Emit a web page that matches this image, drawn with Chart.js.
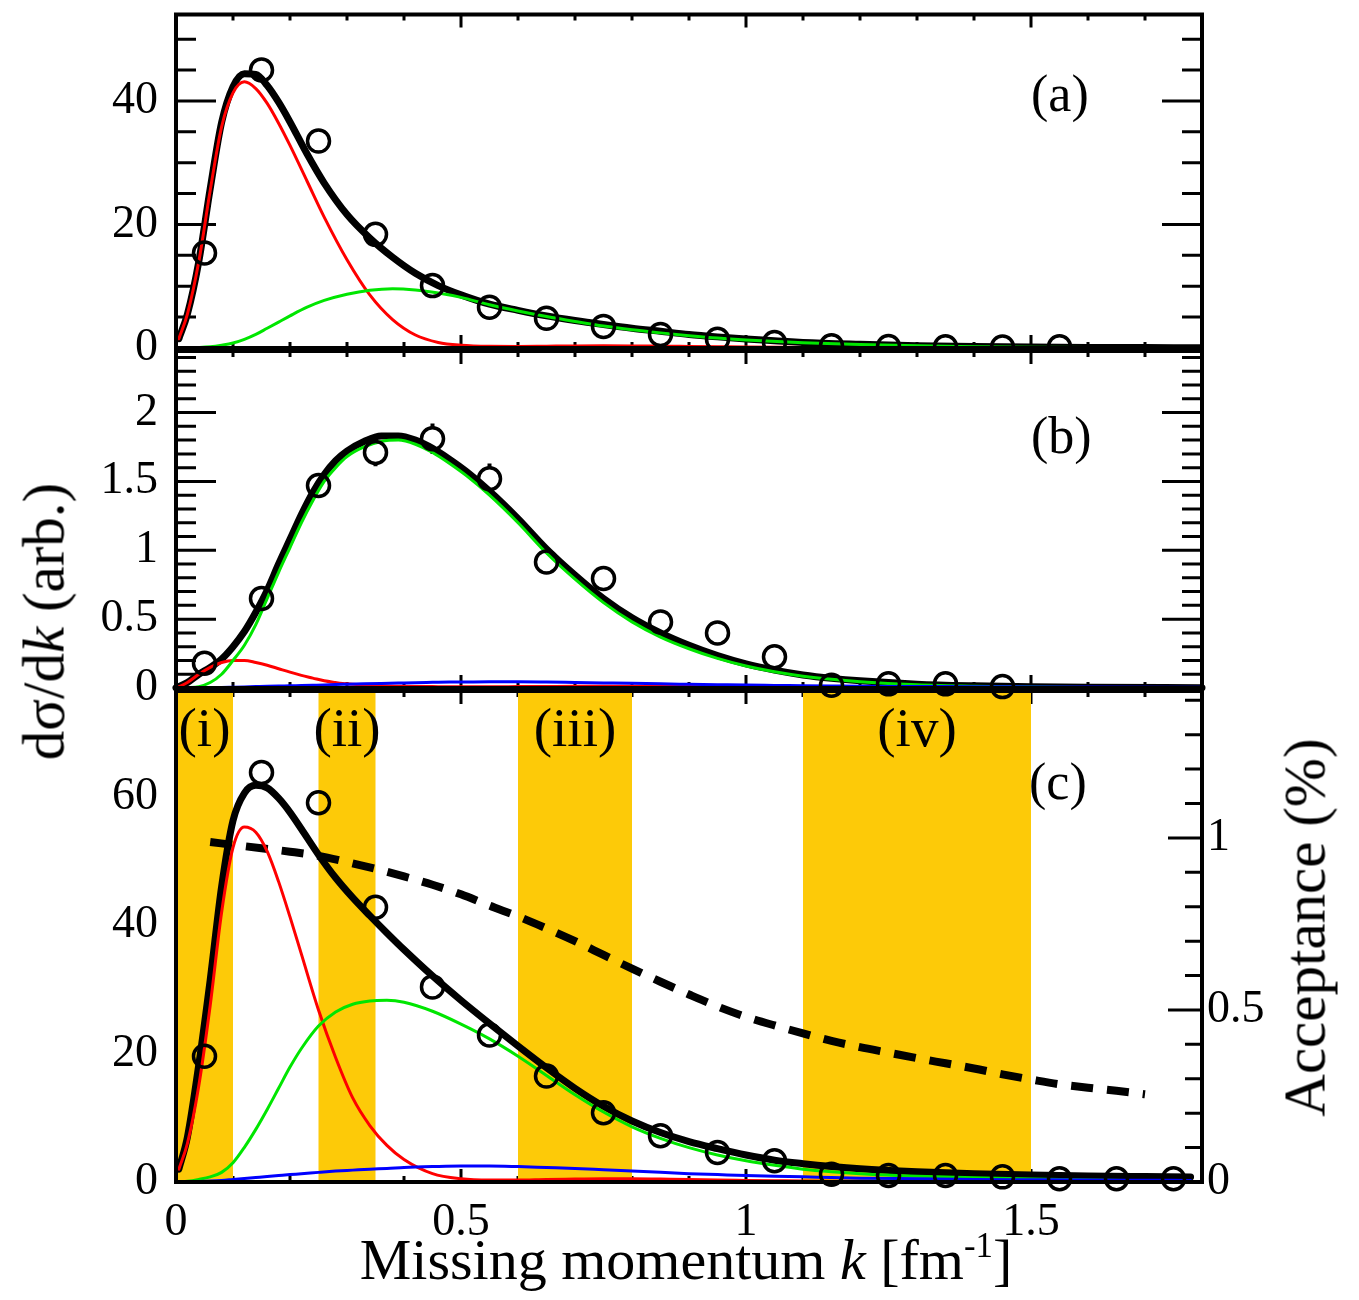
<!DOCTYPE html>
<html>
<head>
<meta charset="utf-8">
<script src="https://cdn.jsdelivr.net/npm/chart.js@4.4.1/dist/chart.umd.min.js"></script>
<style>
  html, body { margin:0; padding:0; background:#fff; }
  #wrap { position:relative; width:1359px; height:1300px; overflow:hidden; background:#fff;
          font-family:"Liberation Serif","Times New Roman",serif; color:#000; }
  canvas { position:absolute; left:0; }
  .t { position:absolute; white-space:nowrap; line-height:1; text-align:center; }
  .t i { font-style:italic; }
  .sup { position:relative; top:-0.62em; font-size:0.6em; }
</style>
</head>
<body>
<div id="wrap">
  <canvas id="panelA" width="1359" height="380" style="top:0px;z-index:1"></canvas>
  <canvas id="panelC" width="1359" height="640" style="top:660px;z-index:2"></canvas>
  <canvas id="panelB" width="1359" height="400" style="top:320px;z-index:3"></canvas>
  <div class="t" style="left:236px;top:1231px;width:900px;font-size:58px;z-index:4">Missing momentum <i>k</i> [fm<span class="sup">-1</span>]</div>
  <div class="t" style="left:-156px;top:592px;width:400px;font-size:59px;transform:rotate(-90deg);z-index:4">dσ/d<i>k</i> (arb.)</div>
  <div class="t" style="left:1105px;top:898px;width:400px;font-size:59px;transform:rotate(-90deg);z-index:4">Acceptance (%)</div>
</div>
<script>
const FONT = '"Liberation Serif", "Times New Roman", serif';

// ---------- tick labels ----------
const xTickLabels = [0, 0.5, 1, 1.5];
const yTicksA = [0, 20, 40];
const yTicksB = [0, 0.5, 1, 1.5, 2];
const yTicksC = [0, 20, 40, 60];
const yTicksAcc = [0, 0.5, 1];

// ---------- panel (a) ----------
const kPtsA = [0.05,0.15,0.25,0.35,0.45,0.55,0.65,0.75,0.85,0.95,1.05,1.15,1.25,1.35,1.45,1.55];
const ptsA  = [15.4,45.0,33.5,18.4,10.1,6.6,4.8,3.5,2.2,1.4,0.9,0.35,0.25,0.2,0.15,0.2];
const kCurveA = [0.005,0.02,0.04,0.06,0.08,0.1,0.12,0.14,0.16,0.18,0.2,0.23,0.26,0.3,0.34,0.38,0.42,0.46,0.5,0.55,0.6,0.65,0.7,0.75,0.8,0.85,0.9,0.95,1.0,1.1,1.2,1.3,1.4,1.5,1.6,1.7,1.8];
const totalA = [1.5,5.5,14,25.8,36.5,42.3,44.4,44.3,42.5,39.8,36.6,31.4,26.7,21.6,17.8,14.7,12.1,10.1,8.6,7.1,6.1,5.2,4.45,3.8,3.2,2.7,2.2,1.8,1.45,0.9,0.6,0.38,0.24,0.15,0.1,0.07,0.04];
const redA   = [1.5,5.5,14,25.5,35.8,41.3,43.1,42.0,39.6,36.4,32.8,27.0,21.2,14.3,8.6,4.6,2.1,0.9,0.45,0.28,0.26,0.3,0.34,0.35,0.34,0.3,0.25,0.2,0.15,0.1,0.05,0.03,0.02,0.01,0,0,0];
const greenA = [0,0.02,0.08,0.2,0.45,0.8,1.4,2.2,3.2,4.2,5.2,6.6,7.7,8.7,9.35,9.6,9.4,8.9,8.2,7.0,6.0,5.1,4.3,3.55,2.95,2.45,2.0,1.6,1.3,0.85,0.55,0.35,0.22,0.14,0.09,0.06,0.04];

// ---------- panel (b) ----------
const kPtsB = [0.05,0.15,0.25,0.35,0.45,0.55,0.65,0.75,0.85,0.95,1.05,1.15,1.25,1.35,1.45];
const ptsB  = [0.18,0.65,1.47,1.71,1.81,1.52,0.915,0.795,0.48,0.40,0.227,0.02,0.03,0.03,0.01];
const errB  = [0.03,0.04,0.06,0.1,0.11,0.11,0.07,0.06,0.05,0.05,0.04,0.02,0.02,0.02,0.02];
const kCurveB = [0,0.02,0.04,0.06,0.08,0.1,0.12,0.14,0.16,0.18,0.2,0.22,0.24,0.26,0.28,0.3,0.33,0.36,0.39,0.42,0.45,0.48,0.51,0.55,0.6,0.65,0.7,0.75,0.8,0.85,0.9,0.95,1.0,1.05,1.1,1.15,1.2,1.3,1.4,1.5,1.6,1.8];
const totalB = [0,0.04,0.1,0.15,0.21,0.3,0.41,0.55,0.71,0.9,1.08,1.26,1.42,1.55,1.65,1.72,1.79,1.83,1.83,1.80,1.74,1.66,1.57,1.43,1.23,1.01,0.82,0.65,0.51,0.40,0.31,0.235,0.175,0.13,0.095,0.07,0.052,0.028,0.016,0.009,0.005,0.002];
const greenB = [0,0.003,0.01,0.04,0.1,0.2,0.31,0.46,0.65,0.84,1.02,1.2,1.36,1.5,1.6,1.68,1.75,1.79,1.80,1.77,1.71,1.63,1.54,1.40,1.20,0.98,0.79,0.62,0.48,0.37,0.285,0.215,0.16,0.118,0.086,0.063,0.046,0.024,0.013,0.007,0.004,0.001];
const redB   = [0,0.04,0.1,0.15,0.185,0.2,0.2,0.185,0.165,0.14,0.115,0.092,0.072,0.052,0.04,0.03,0.022,0.016,0.013,0.011,0.01,0.009,0.009,0.009,0.01,0.011,0.012,0.012,0.012,0.011,0.01,0.009,0.008,0.007,0.006,0.005,0.004,0.003,0.002,0.001,0.001,0];
const blueB  = [0,0.001,0.002,0.003,0.004,0.006,0.008,0.01,0.012,0.014,0.016,0.018,0.02,0.022,0.025,0.027,0.03,0.033,0.036,0.039,0.041,0.043,0.044,0.045,0.045,0.043,0.04,0.037,0.034,0.03,0.027,0.024,0.021,0.019,0.017,0.015,0.013,0.011,0.009,0.008,0.007,0.006];

// ---------- panel (c) ----------
const kPtsC = [0.05,0.15,0.25,0.35,0.45,0.55,0.65,0.75,0.85,0.95,1.05,1.15,1.25,1.35,1.45,1.55,1.65,1.75];
const ptsC  = [19.6,63.8,59.1,42.8,30.4,22.9,16.5,10.8,7.2,4.6,3.3,1.2,1.0,1.0,0.8,0.5,0.5,0.5];
const kCurveC = [0.005,0.02,0.04,0.06,0.08,0.1,0.12,0.14,0.16,0.18,0.2,0.22,0.25,0.28,0.31,0.34,0.37,0.4,0.45,0.5,0.55,0.6,0.65,0.7,0.75,0.8,0.85,0.9,0.95,1.0,1.05,1.1,1.15,1.2,1.3,1.4,1.5,1.6,1.7,1.78];
const totalC = [2.0,7.0,18.3,31.5,46,56.3,60.6,61.8,61.4,59.8,57.6,55.0,51.0,47.4,44.3,41.5,38.8,36.2,32.1,28.3,24.7,21.2,17.8,14.6,11.8,9.5,7.7,6.3,5.2,4.2,3.4,2.85,2.4,2.05,1.6,1.3,1.1,0.95,0.85,0.78];
const redC   = [2.0,6.0,15.0,27.5,42,52.1,55.3,54.5,51.5,46.8,41.3,35.5,26.8,19.4,13.1,8.8,5.7,3.5,1.3,0.5,0.3,0.3,0.4,0.45,0.5,0.5,0.45,0.4,0.3,0.25,0.2,0.15,0.12,0.1,0.06,0.04,0.03,0.02,0.01,0.01];
const greenC = [0,0.1,0.4,0.8,1.5,3.0,5.4,8.2,11.3,14.6,17.9,20.8,24.3,26.5,27.7,28.2,28.3,28.0,26.6,24.6,22.3,19.6,16.6,13.6,10.9,8.6,6.8,5.35,4.2,3.3,2.6,2.0,1.6,1.3,0.9,0.65,0.45,0.3,0.2,0.15];
const blueC  = [0,0.02,0.08,0.15,0.25,0.4,0.55,0.7,0.85,1.0,1.15,1.28,1.5,1.7,1.85,2.0,2.1,2.25,2.4,2.5,2.5,2.4,2.25,2.1,1.9,1.7,1.5,1.3,1.15,1.0,0.9,0.8,0.7,0.6,0.5,0.4,0.35,0.3,0.28,0.25];
const kAcc = [0.06,0.1,0.15,0.2,0.25,0.3,0.35,0.4,0.45,0.5,0.55,0.6,0.65,0.7,0.75,0.8,0.85,0.9,0.95,1.0,1.05,1.1,1.15,1.2,1.25,1.3,1.35,1.4,1.45,1.5,1.55,1.6,1.65,1.7];
const acceptance = [0.988,0.98,0.97,0.96,0.948,0.93,0.91,0.888,0.864,0.836,0.803,0.772,0.737,0.70,0.66,0.62,0.582,0.545,0.51,0.48,0.455,0.432,0.41,0.392,0.376,0.36,0.345,0.33,0.313,0.298,0.284,0.274,0.265,0.255];
const bandLo = [0, 0.25, 0.6, 1.1];
const bandHi = [0.1, 0.35, 0.8, 1.5];
const bandNames = ['(i)', '(ii)', '(iii)', '(iv)'];

// ---------- helpers ----------
function tickValues(min, max, step) {
  const out = [];
  const n = Math.floor((max - min) / step + 1e-6);
  for (let i = 0; i <= n; i++) out.push(+(min + i * step).toFixed(6));
  return out;
}
function isMajor(v, major) { return Math.abs(v / major - Math.round(v / major)) < 1e-6; }

const panelPlugin = {
  id: 'panel',
  beforeDatasetsDraw(chart, args, o) {
    const {ctx, chartArea: a, scales} = chart;
    const xs = scales.x, ys = scales.y, ys2 = scales.y2;
    ctx.save();
    ctx.strokeStyle = '#000';
    ctx.lineWidth = 3;
    ctx.lineCap = 'butt';
    ctx.beginPath();
    tickValues(0, 1.8, o.xMinor).forEach(v => {
      const px = xs.getPixelForValue(v);
      const len = isMajor(v, o.xMajor) ? o.xMajorLen : o.xMinorLen;
      ctx.moveTo(px, a.top); ctx.lineTo(px, a.top + len);
      ctx.moveTo(px, a.bottom); ctx.lineTo(px, a.bottom - len);
    });
    tickValues(0, ys.max, o.yMinor).forEach(v => {
      const py = ys.getPixelForValue(v);
      const len = isMajor(v, o.yMajor) ? o.yMajorLen : o.yMinorLen;
      ctx.moveTo(a.left, py); ctx.lineTo(a.left + len, py);
      if (!ys2) { ctx.moveTo(a.right, py); ctx.lineTo(a.right - len, py); }
    });
    if (ys2) {
      tickValues(0, ys2.max, o.y2Minor).forEach(v => {
        const py = ys2.getPixelForValue(v);
        const len = isMajor(v, o.y2Major) ? o.y2MajorLen : o.y2MinorLen;
        ctx.moveTo(a.right, py); ctx.lineTo(a.right - len, py);
      });
    }
    ctx.stroke();
    if (o.bands) {
      ctx.fillStyle = '#FDCA08';
      o.bands.lo.forEach((lo, i) => {
        const x1 = xs.getPixelForValue(lo), x2 = xs.getPixelForValue(o.bands.hi[i]);
        ctx.fillRect(x1, a.top, x2 - x1, a.bottom - a.top);
      });
    }
    if (o.errors) {
      const e = o.errors, r = 11;
      ctx.lineWidth = 4;
      ctx.beginPath();
      e.k.forEach((k, i) => {
        const px = xs.getPixelForValue(k);
        const py = ys.getPixelForValue(e.y[i]);
        const pt = ys.getPixelForValue(e.y[i] + e.e[i]);
        const pb = ys.getPixelForValue(e.y[i] - e.e[i]);
        if (py - pt > r) { ctx.moveTo(px, pt); ctx.lineTo(px, py - r); }
        if (pb - py > r) { ctx.moveTo(px, py + r); ctx.lineTo(px, pb); }
      });
      ctx.stroke();
    }
    ctx.restore();
  },
  afterDraw(chart, args, o) {
    const {ctx, chartArea: a, scales} = chart;
    ctx.save();
    ctx.strokeStyle = '#000';
    ctx.lineWidth = 4;
    ctx.strokeRect(a.left, a.top, a.right - a.left, a.bottom - a.top);
    ctx.fillStyle = '#000';
    ctx.textBaseline = 'alphabetic';
    (o.labels || []).forEach(l => {
      ctx.font = l.size + 'px ' + FONT;
      ctx.textAlign = l.align || 'left';
      const x = l.xv !== undefined ? scales.x.getPixelForValue(l.xv) : l.x;
      ctx.fillText(l.text, x, l.y);
    });
    ctx.restore();
  }
};

function xScale(show) {
  return {
    type: 'linear', min: 0, max: 1.8, display: show,
    afterBuildTicks: s => { s.ticks = xTickLabels.map(v => ({value: v})); },
    ticks: { font: {family: FONT, size: 46}, color: '#000', padding: 13, maxRotation: 0, autoSkip: false, callback: v => String(v) },
    grid: { display: false, drawTicks: false }, border: { display: false },
    afterFit: s => { s.height = show ? 118 : 0; s.paddingLeft = 0; s.paddingRight = 0; }
  };
}
function yScale(pos, max, ticksArr, width) {
  return {
    type: 'linear', position: pos, min: 0, max: max,
    afterBuildTicks: s => { s.ticks = ticksArr.map(v => ({value: v})); },
    ticks: { font: {family: FONT, size: 46}, color: '#000', padding: pos === 'left' ? 18 : 5, callback: v => String(v) },
    grid: { display: false, drawTicks: false }, border: { display: false },
    afterFit: s => { s.width = width; s.paddingTop = 0; s.paddingBottom = 0; }
  };
}
function curve(ks, vs, color, width, order, extra) {
  return Object.assign({
    type: 'line', data: ks.map((x, i) => ({x: x, y: vs[i]})),
    borderColor: color, borderWidth: width, pointRadius: 0, fill: false,
    cubicInterpolationMode: 'monotone', order: order, borderCapStyle: 'round', borderJoinStyle: 'round'
  }, extra || {});
}
function points(ks, vs, extra) {
  return Object.assign({
    type: 'line', showLine: false, data: ks.map((x, i) => ({x: x, y: vs[i]})),
    pointRadius: 11, pointBorderWidth: 3.5, pointBorderColor: '#000',
    pointBackgroundColor: 'rgba(0,0,0,0)', pointStyle: 'circle', order: 0
  }, extra || {});
}
function baseOptions(padding, scales, panel) {
  return {
    responsive: false, animation: false, devicePixelRatio: 1, events: [],
    layout: { padding: padding },
    plugins: { legend: {display: false}, tooltip: {enabled: false}, panel: panel },
    scales: scales
  };
}

const RED = '#FF0000', GREEN = '#00E600', BLUE = '#0000FF', BLACK = '#000000';

// panel (a)
new Chart(document.getElementById('panelA'), {
  type: 'line',
  data: { datasets: [
    points(kPtsA, ptsA),
    curve(kCurveA, greenA, GREEN, 3, 2),
    curve(kCurveA, redA, RED, 3, 3),
    curve(kCurveA, totalA, BLACK, 7, 5)
  ]},
  options: baseOptions({top: 12, bottom: 32, left: 0, right: 157},
    { x: xScale(false), y: yScale('left', 54, yTicksA, 176) },
    { xMinor: 0.1, xMajor: 0.5, xMinorLen: 6, xMajorLen: 13, yMinor: 5, yMajor: 20, yMinorLen: 20, yMajorLen: 40,
      labels: [{text: '(a)', x: 1031, y: 111, size: 52}] }),
  plugins: [panelPlugin]
});

// panel (b)
const noClip = {clip: false};
new Chart(document.getElementById('panelB'), {
  type: 'line',
  data: { datasets: [
    points(kPtsB, ptsB, noClip),
    curve(kCurveB, blueB, BLUE, 3, 1, noClip),
    curve(kCurveB, greenB, GREEN, 3, 2, noClip),
    curve(kCurveB, redB, RED, 3, 3, noClip),
    curve(kCurveB, totalB, BLACK, 7, 5, noClip)
  ]},
  options: baseOptions({top: 31, bottom: 32, left: 0, right: 157},
    { x: xScale(false), y: yScale('left', 2.447, yTicksB, 176) },
    { xMinor: 0.1, xMajor: 0.5, xMinorLen: 6, xMajorLen: 13, yMinor: 0.1, yMajor: 0.5, yMinorLen: 20, yMajorLen: 40,
      errors: {k: kPtsB, y: ptsB, e: errB},
      labels: [{text: '(b)', x: 1031, y: 133, size: 52}] }),
  plugins: [panelPlugin]
});

// panel (c)
new Chart(document.getElementById('panelC'), {
  type: 'line',
  data: { datasets: [
    points(kPtsC, ptsC, noClip),
    curve(kCurveC, blueC, BLUE, 3, 1, noClip),
    curve(kCurveC, greenC, GREEN, 3, 2, noClip),
    curve(kCurveC, redC, RED, 3, 3, noClip),
    curve(kCurveC, totalC, BLACK, 7, 5, noClip),
    curve(kAcc, acceptance, BLACK, 8, 6, {yAxisID: 'y2', borderDash: [22, 14], borderCapStyle: 'butt', clip: false})
  ]},
  options: baseOptions({top: 31, bottom: 0, left: 0, right: 0},
    { x: xScale(true), y: yScale('left', 76.5, yTicksC, 176), y2: yScale('right', 1.427, yTicksAcc, 157) },
    { xMinor: 0.1, xMajor: 0.5, xMinorLen: 6, xMajorLen: 13, yMinor: 5, yMajor: 20, yMinorLen: 20, yMajorLen: 40,
      y2Minor: 0.1, y2Major: 0.5, y2MinorLen: 17, y2MajorLen: 34,
      bands: {lo: bandLo, hi: bandHi},
      labels: [{text: '(c)', x: 1029, y: 139, size: 52}].concat(
        bandNames.map((t, i) => ({text: t, xv: (bandLo[i] + bandHi[i]) / 2, y: 86, size: 55, align: 'center'}))) }),
  plugins: [panelPlugin]
});
</script>
</body>
</html>
